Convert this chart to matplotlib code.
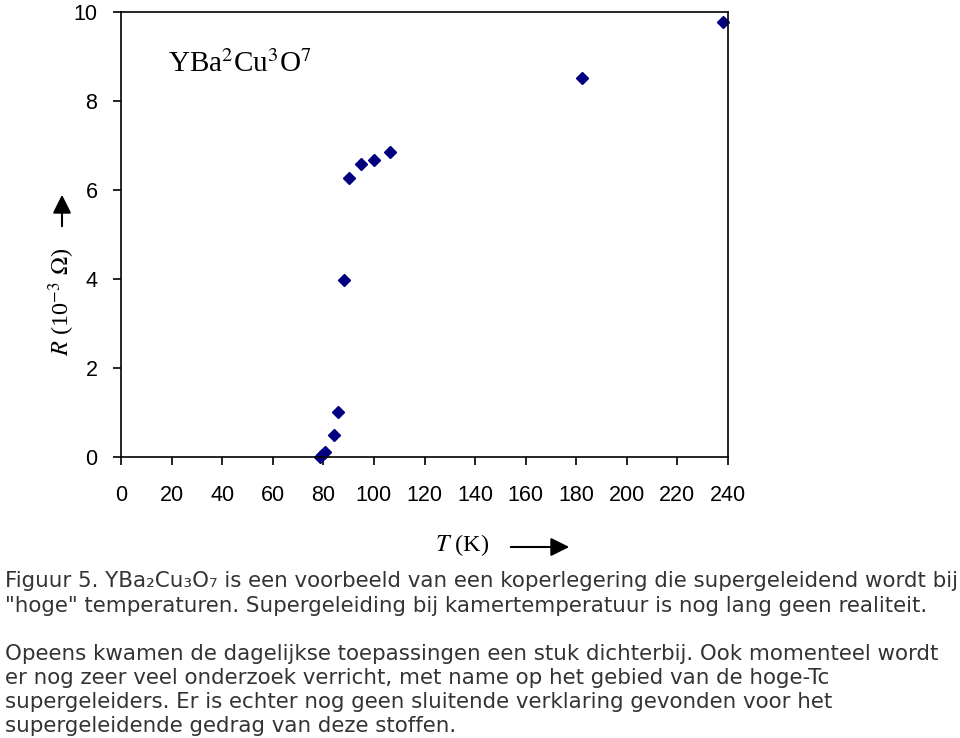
import matplotlib
matplotlib.use("Agg")
import matplotlib.pyplot as plt

# Data (T in K, R in 10^-3 Ohm)
temp = [78.5, 79.5, 80.5, 84.2, 85.7, 88.2, 90.2, 95.0, 100.2, 106.5, 182.3, 238.2]
resist = [0.0, 0.05, 0.12, 0.49, 1.02, 3.98, 6.28, 6.58, 6.68, 6.86, 8.52, 9.77]

xticks = list(range(0, 241, 20))
yticks = [0, 2, 4, 6, 8, 10]

caption = [
    "Figuur 5. YBa\u2082Cu\u2083O\u2087 is een voorbeeld van een koperlegering die supergeleidend wordt bij",
    "\"hoge\" temperaturen. Supergeleiding bij kamertemperatuur is nog lang geen realiteit.",
    "Opeens kwamen de dagelijkse toepassingen een stuk dichterbij. Ook momenteel wordt",
    "er nog zeer veel onderzoek verricht, met name op het gebied van de hoge-Tc",
    "supergeleiders. Er is echter nog geen sluitende verklaring gevonden voor het",
    "supergeleidende gedrag van deze stoffen.",
]
caption_baselines = [587, 612, 660, 684, 708, 732]  # pixel rows

plt.rcParams["mathtext.fontset"] = "stix"

W, H = 960, 738
fig = plt.figure(figsize=(W / 100, H / 100), dpi=100)
ax = fig.add_axes([121 / W, 1 - 457 / H, (728 - 121) / W, (457 - 12) / H])

ax.plot(temp, resist, linestyle="none", marker="D", markersize=6,
        color="#000080", clip_on=False)

ax.set_xlim(0, 240)
ax.set_ylim(0, 10)
ax.set_xticks(xticks)
ax.set_yticks(yticks)
tick_font = {"family": "Liberation Sans", "size": 15.5}
ax.set_xticklabels([str(v) for v in xticks], fontdict=tick_font)
ax.set_yticklabels([str(v) for v in yticks], fontdict=tick_font)
ax.tick_params(axis="x", direction="out", length=6, width=1.2, pad=14)
ax.tick_params(axis="y", direction="out", length=6, width=1.2, pad=11)
for s in ax.spines.values():
    s.set_linewidth(1.2)

# compound name inside the plot
ax.text(0.077, 0.865, "YBa$^2$Cu$^3$O$^7$", transform=ax.transAxes,
        family="Liberation Serif", fontsize=21, va="baseline", ha="left")

# axis labels with arrows
fig.text(62 / W, 1 - 302 / H, r"$R$ (10$^{-3}$ $\Omega$)", rotation=90,
         family="Liberation Serif", fontsize=17.5, ha="center", va="center")
fig.add_artist(matplotlib.patches.FancyArrowPatch(
    (62 / W, 1 - 229 / H), (62 / W, 1 - 192 / H), transform=fig.transFigure,
    arrowstyle="-|>,head_length=0.8,head_width=0.4", mutation_scale=14,
    color="black", lw=1.5))

fig.text(462 / W, 1 - 545 / H, r"$T$ (K)", family="Liberation Serif",
         fontsize=17.5, ha="center", va="center")
fig.add_artist(matplotlib.patches.FancyArrowPatch(
    (508 / W, 1 - 547 / H), (572 / W, 1 - 547 / H), transform=fig.transFigure,
    arrowstyle="-|>,head_length=0.8,head_width=0.4", mutation_scale=14,
    color="black", lw=1.5))

# caption
for line, yb in zip(caption, caption_baselines):
    fig.text(5 / W, 1 - yb / H, line, family="DejaVu Sans", fontsize=15.4,
             color="#333333", ha="left", va="baseline")

fig.savefig("out.png", dpi=100)
